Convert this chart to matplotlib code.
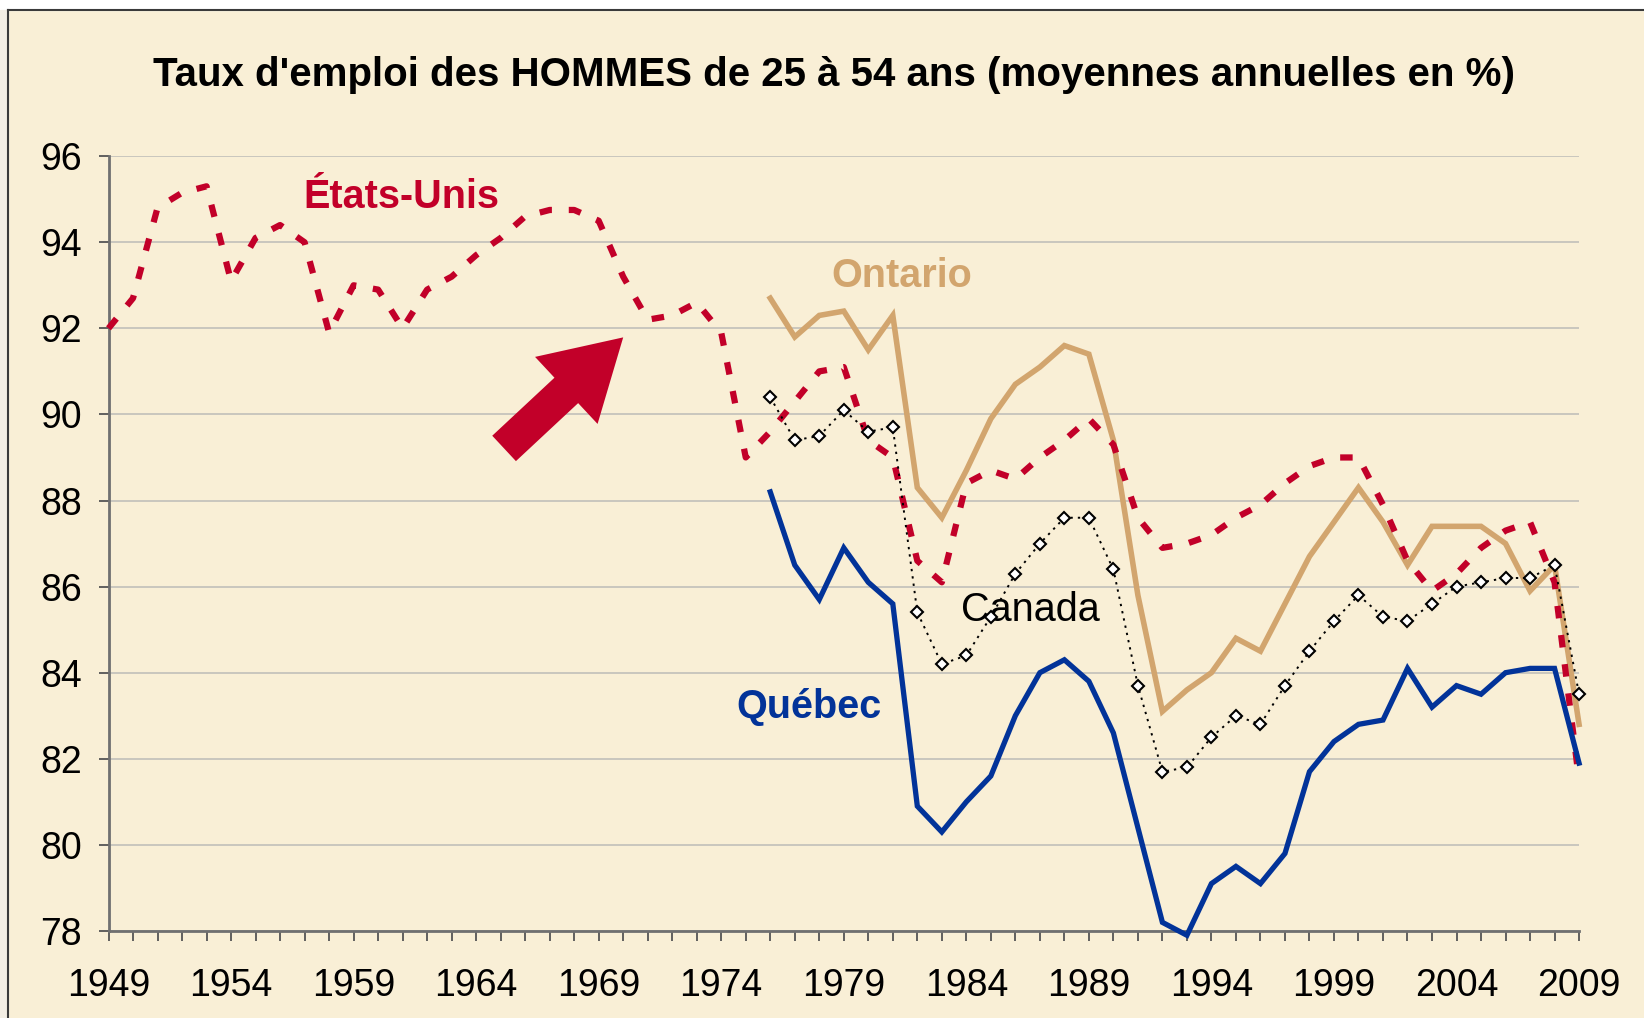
import numpy as np
import matplotlib
matplotlib.use("Agg")
import matplotlib.pyplot as plt
from matplotlib.lines import Line2D

plt.rcParams['font.family'] = ['Liberation Sans', 'DejaVu Sans']

# Données (taux d'emploi, hommes 25-54 ans, %)
years_us = list(range(1949, 2010))
us = [92.0, 92.7, 94.8, 95.15, 95.3, 93.1, 94.1, 94.4, 94.0, 91.9,
      93.0, 92.9, 92.0, 92.9, 93.2, 93.7, 94.1, 94.6, 94.75, 94.75,
      94.5, 93.2, 92.2, 92.3, 92.6, 91.9, 89.0, 89.6, 90.3, 91.0,
      91.1, 89.4, 89.0, 86.6, 86.1, 88.4, 88.7, 88.5, 89.0, 89.4,
      89.9, 89.3, 87.6, 86.9, 87.0, 87.2, 87.6, 87.9, 88.4, 88.8,
      89.0, 89.0, 87.9, 86.6, 85.9, 86.3, 86.9, 87.3, 87.5, 86.1,
      81.5]

years_ca = list(range(1976, 2010))
ontario = [92.7, 91.8, 92.3, 92.4, 91.5, 92.3, 88.3, 87.6, 88.7, 89.9,
           90.7, 91.1, 91.6, 91.4, 89.4, 85.8, 83.1, 83.6, 84.0, 84.8,
           84.5, 85.6, 86.7, 87.5, 88.3, 87.5, 86.5, 87.4, 87.4, 87.4,
           87.0, 85.9, 86.5, 82.8]
canada = [90.4, 89.4, 89.5, 90.1, 89.6, 89.7, 85.4, 84.2, 84.4, 85.3,
          86.3, 87.0, 87.6, 87.6, 86.4, 83.7, 81.7, 81.8, 82.5, 83.0,
          82.8, 83.7, 84.5, 85.2, 85.8, 85.3, 85.2, 85.6, 86.0, 86.1,
          86.2, 86.2, 86.5, 83.5]
quebec = [88.2, 86.5, 85.7, 86.9, 86.1, 85.6, 80.9, 80.3, 81.0, 81.6,
          83.0, 84.0, 84.3, 83.8, 82.6, 80.4, 78.2, 77.9, 79.1, 79.5,
          79.1, 79.8, 81.7, 82.4, 82.8, 82.9, 84.1, 83.2, 83.7, 83.5,
          84.0, 84.1, 84.1, 81.9]

xticks = list(range(1949, 2010, 5))
yticks = list(range(78, 97, 2))

bg = '#F9EFD6'
red = '#C20029'
tan = '#D2A56E'
blue = '#023399'

fig = plt.figure(figsize=(16.44, 10.18), dpi=100, facecolor=bg)
ax = fig.add_axes([0.066, 0.0855, 0.8945, 0.7611])
ax.set_facecolor(bg)

ax.plot(years_ca, ontario, color=tan, lw=4.0, zorder=3, clip_on=False,
        solid_joinstyle='miter')
ax.plot(years_us, us, color=red, lw=4.5, ls=(0, (2.0, 2.7)), zorder=4,
        clip_on=False, dash_capstyle='butt')
ax.plot(years_ca, quebec, color=blue, lw=3.8, zorder=5, clip_on=False,
        solid_joinstyle='miter')
ax.plot(years_ca, canada, color='black', lw=1.4, ls=(0, (1.2, 2.6)),
        marker='D', ms=6, mfc='white', mec='black', mew=1.5, zorder=6,
        clip_on=False)

ax.set_xlim(1949, 2009)
ax.set_ylim(78, 96)
ax.set_xticks(xticks)
ax.set_xticks(range(1949, 2010), minor=True)
ax.set_yticks(yticks)
ax.grid(axis='y', color='#C6C3BC', lw=1.3, zorder=0)
ax.set_axisbelow(True)
for s in ['top', 'right']:
    ax.spines[s].set_visible(False)
for s in ['left', 'bottom']:
    ax.spines[s].set_color('#707070')
    ax.spines[s].set_linewidth(2)
ax.tick_params(axis='both', which='both', direction='out', length=7,
               width=1.3, color='#555555', labelsize=27)
ax.tick_params(axis='x', which='major', pad=20)
ax.tick_params(axis='y', pad=12)

fig.text(0.507, 0.926, "Taux d'emploi des HOMMES de 25 à 54 ans (moyennes annuelles en %)",
         ha='center', va='center', fontsize=29, fontweight='bold')

ax.text(1960.94, 95.05, 'États-Unis', color=red, fontsize=28.5, fontweight='bold',
        ha='center', va='center')
ax.text(1981.36, 93.22, 'Ontario', color=tan, fontsize=28.5, fontweight='bold',
        ha='center', va='center')
ax.text(1986.62, 85.45, 'Canada', color='black', fontsize=28.5,
        ha='center', va='center')
ax.text(1977.59, 83.2, 'Québec', color=blue, fontsize=28.5, fontweight='bold',
        ha='center', va='center')

# flèche
ax.annotate('', xy=(1970.0, 91.79), xytext=(1965.14, 89.21),
            arrowprops=dict(arrowstyle='simple,head_length=56,head_width=66,tail_width=25',
                            mutation_scale=1, color=red, shrinkA=0, shrinkB=0, lw=0))

# cadre
fig.add_artist(Line2D([0.0049, 1], [0.99, 0.99], color='#3a3a3a', lw=1.5))
fig.add_artist(Line2D([0.0049, 0.0049], [0, 0.99], color='#3a3a3a', lw=1.5))
fig.patches.append(plt.Rectangle((0, 0.99), 1, 0.01, transform=fig.transFigure,
                                 color='white', zorder=0))
fig.patches.append(plt.Rectangle((0, 0), 0.0049, 0.99, transform=fig.transFigure,
                                 color='#F3EEE4', zorder=0))
grad = fig.add_axes([0.6, 0.9905, 0.4, 0.0095])
g = np.linspace(0, 1, 256)
alpha = np.clip(np.sin(np.pi * g) * 1.4, 0, 1) ** 1.5
img = np.ones((1, 256, 4))
img[..., 0] = 0.72
img[..., 1] = 0.13
img[..., 2] = 0.27
img[..., 3] = alpha * 0.9
grad.imshow(img, aspect='auto', extent=(0, 1, 0, 1))
grad.axis('off')

fig.savefig('out.png', dpi=100, facecolor=bg)
